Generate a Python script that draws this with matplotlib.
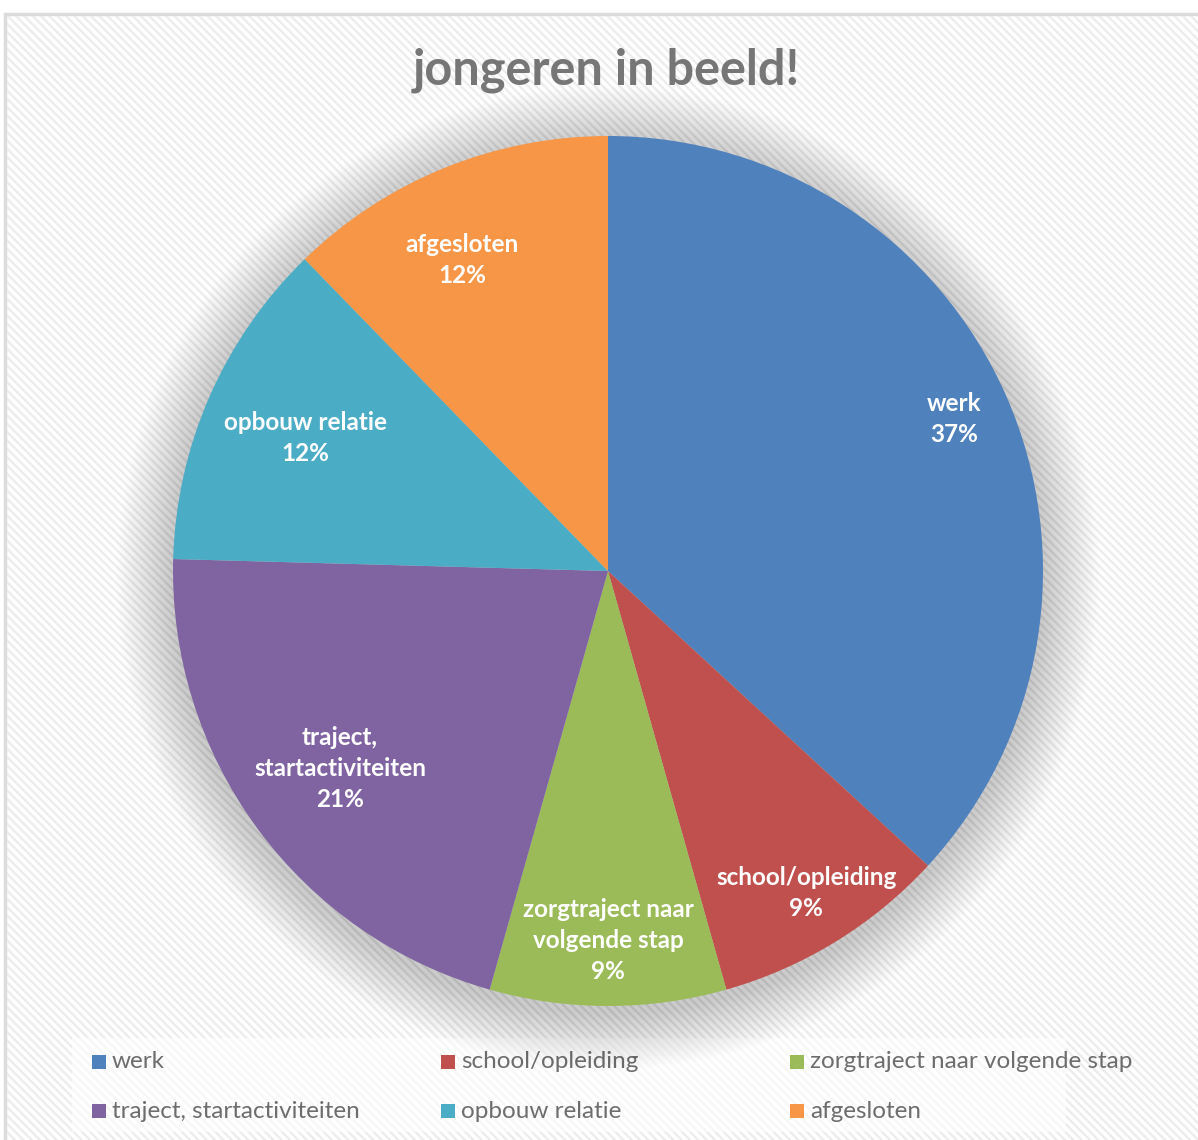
#!/usr/bin/env python3
# -*- coding: utf-8 -*-
"""
Taartdiagram 'jongeren in beeld!' nagebouwd met matplotlib.
"""

import numpy as np
import matplotlib
matplotlib.use('Agg')
import matplotlib.pyplot as plt
from matplotlib.patches import Rectangle, Circle

plt.rcParams['font.family'] = ['Lato', 'DejaVu Sans']
plt.rcParams['hatch.color'] = '#ececec'
plt.rcParams['hatch.linewidth'] = 1.6

# gegevens (aantallen jongeren per uitstroom)
categories = ['werk', 'school/opleiding', 'zorgtraject naar volgende stap',
              'traject, startactiviteiten', 'opbouw relatie', 'afgesloten']
slice_labels = ['werk', 'school/opleiding', 'zorgtraject naar\nvolgende stap',
                'traject,\nstartactiviteiten', 'opbouw relatie', 'afgesloten']
counts = [42, 10, 10, 24, 14, 14]
colors = ['#4F81BD', '#C0504D', '#9BBB59', '#8064A2', '#4BACC6', '#F79646']
label_radius = [0.87, 0.87, 0.85, 0.765, 0.76, 0.79]
label_shift = [0, 0, 0, 0, 0, 3]   # graden extra (tegen de klok in)

W, H = 1198, 1140
fig = plt.figure(figsize=(W / 100, H / 100), dpi=100)
fig.patch.set_facecolor('white')

# achtergrond met schuine streepjes en lichte rand
bg = fig.add_axes([0, 0, 1, 1])
bg.set_xlim(0, W)
bg.set_ylim(H, 0)
bg.axis('off')
bg.add_patch(Rectangle((5, 14), W + 10, H, facecolor='white',
                       edgecolor='#dcdcdc', linewidth=2.5, zorder=0))
bg.add_patch(Rectangle((7, 16), W + 10, H, facecolor='none', hatch='\\\\\\\\',
                       edgecolor='#ececec', linewidth=0, zorder=1))

# titel
fig.text(606 / W, 1 - 70 / H, 'jongeren in beeld!', ha='center', va='center',
         fontsize=35, fontweight='bold', color='#767676')

# taart
cx, cy, r = 608, 571, 435
ax = fig.add_axes([(cx - r) / W, (H - cy - r) / H, 2 * r / W, 2 * r / H])
ax.axis('off')

# zachte schaduw achter de taart
for k in range(26):
    rr = 1.0 + 0.005 * (k + 1)
    ax.add_patch(Circle((0.0, -0.015), rr, facecolor='#000000', alpha=0.008,
                        linewidth=0, zorder=0, clip_on=False))

wedges, _ = ax.pie(counts, colors=colors, startangle=90, counterclock=False,
                   radius=1.0, wedgeprops=dict(linewidth=0, zorder=2))
ax.set_xlim(-1, 1)
ax.set_ylim(-1, 1)
ax.set_aspect('equal')

total = sum(counts)
for w, lab, n, lr, sh in zip(wedges, slice_labels, counts, label_radius, label_shift):
    theta = np.deg2rad((w.theta1 + w.theta2) / 2 + sh)
    x, y = lr * np.cos(theta), lr * np.sin(theta)
    ax.text(x, y, f'{lab}\n{round(100 * n / total)}%', ha='center', va='center',
            color='white', fontsize=17.5, fontweight='bold', linespacing=1.42,
            zorder=5)

# legenda
bg.add_patch(Rectangle((72, 1038), 994, 94, facecolor='white', alpha=0.6,
                       edgecolor='none', zorder=2))
for i, (name, col) in enumerate(zip(categories, colors)):
    lx = 92 + (i % 3) * 349
    ly = 1062 + (i // 3) * 49
    bg.add_patch(Rectangle((lx, ly - 7), 14, 14, facecolor=col,
                           edgecolor='none', zorder=3))
    bg.text(lx + 20, ly, name, ha='left', va='center', fontsize=17.5,
            color='#6d6d6d', zorder=3)

plt.savefig('out.png', dpi=100)
print('opgeslagen: out.png')
